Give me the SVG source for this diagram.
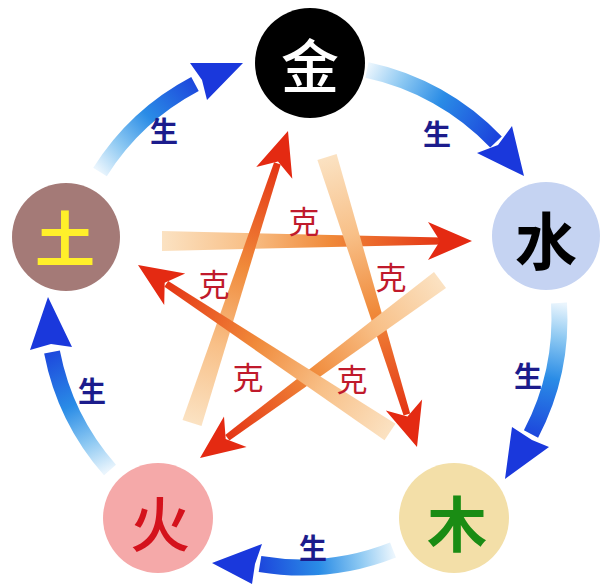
<svg xmlns="http://www.w3.org/2000/svg" xmlns:xlink="http://www.w3.org/1999/xlink" width="608" height="584" viewBox="0 0 608 584">
<defs>
<style>
.node-t{font-family:"Noto Sans CJK SC","Noto Sans CJK JP",sans-serif;text-anchor:middle;dominant-baseline:central}
.sheng{font-family:"Noto Sans CJK SC",sans-serif;font-size:28px;font-weight:700;fill:#1c1c8c;text-anchor:middle;dominant-baseline:central}
.ke{font-family:"Noto Sans CJK SC",sans-serif;font-size:31px;font-weight:400;fill:#c01a2c;text-anchor:middle;dominant-baseline:central}
.bshaft{fill:none;stroke-width:16}
.bhead{fill:#1a38dc}
.rhead{fill:#e42a12}
</style>
<linearGradient id="gblue">
<stop offset="0" stop-color="#eaf5fd"/>
<stop offset="0.25" stop-color="#8cc8f2"/>
<stop offset="0.55" stop-color="#2a8ce6"/>
<stop offset="1" stop-color="#1c44dc"/>
</linearGradient>
<linearGradient id="gred">
<stop offset="0" stop-color="#fbe2c2"/>
<stop offset="0.3" stop-color="#f8c088"/>
<stop offset="0.6" stop-color="#f08a3a"/>
<stop offset="1" stop-color="#e43414"/>
</linearGradient>
<linearGradient id="gb1" href="#gblue" xlink:href="#gblue" gradientUnits="userSpaceOnUse" x1="367" y1="70" x2="494" y2="140"/>
<linearGradient id="gb2" href="#gblue" xlink:href="#gblue" gradientUnits="userSpaceOnUse" x1="559" y1="303" x2="530" y2="437"/>
<linearGradient id="gb3" href="#gblue" xlink:href="#gblue" gradientUnits="userSpaceOnUse" x1="393" y1="550" x2="257" y2="564"/>
<linearGradient id="gb4" href="#gblue" xlink:href="#gblue" gradientUnits="userSpaceOnUse" x1="110" y1="470" x2="51" y2="348"/>
<linearGradient id="gb5" href="#gblue" xlink:href="#gblue" gradientUnits="userSpaceOnUse" x1="100" y1="172" x2="198" y2="82"/>
<linearGradient id="gr1" href="#gred" xlink:href="#gred" gradientUnits="userSpaceOnUse" x1="162" y1="241" x2="442" y2="241"/>
<linearGradient id="gr2" href="#gred" xlink:href="#gred" gradientUnits="userSpaceOnUse" x1="192" y1="423" x2="277" y2="163"/>
<linearGradient id="gr3" href="#gred" xlink:href="#gred" gradientUnits="userSpaceOnUse" x1="327" y1="157" x2="407" y2="414"/>
<linearGradient id="gr4" href="#gred" xlink:href="#gred" gradientUnits="userSpaceOnUse" x1="440" y1="280" x2="227" y2="438"/>
<linearGradient id="gr5" href="#gred" xlink:href="#gred" gradientUnits="userSpaceOnUse" x1="390" y1="432" x2="166" y2="284"/>
</defs>
<rect width="608" height="584" fill="#ffffff"/>
<g id="connectors">
<g id="sheng-arrows">
<path class="bshaft" stroke="url(#gb1)" d="M367 70 A250 250 0 0 1 496 142"/>
<polygon class="bhead" points="524,176 477,153 498,145 512,126"/>
<path class="bshaft" stroke="url(#gb2)" d="M559 303 A250 250 0 0 1 531 434"/>
<polygon class="bhead" points="505,479 512,427 532,440 549,447"/>
<path class="bshaft" stroke="url(#gb3)" d="M393 550 A250 250 0 0 1 260 564"/>
<polygon class="bhead" points="212,563 262,544 255,564 252,584"/>
<path class="bshaft" stroke="url(#gb4)" d="M110 470 A250 250 0 0 1 52 352"/>
<polygon class="bhead" points="48,297 72,347 51,344 30,350"/>
<path class="bshaft" stroke="url(#gb5)" d="M100 172 A250 250 0 0 1 195 84"/>
<polygon class="bhead" points="243,63 207,100 202,80 190,63"/>
</g>
<g id="ke-arrows">
<polygon fill="url(#gr1)" points="162,231 442,237.5 442,244.5 162,251"/>
<polygon class="rhead" points="472,241 428,222 440,241 428,260"/>
<polygon fill="url(#gr2)" points="201.5,426.1 280.7,164.4 274.1,162.2 182.5,419.9"/>
<polygon class="rhead" points="288,131 292.3,178.7 278,161.4 256.2,166.9"/>
<polygon fill="url(#gr3)" points="317.4,160 403.6,415.5 410.2,413.5 336.6,154"/>
<polygon class="rhead" points="417,447 385.8,410.6 407.5,416.4 422.1,399.4"/>
<polygon fill="url(#gr4)" points="434,272 225.2,434.9 229.4,440.5 446,288"/>
<polygon class="rhead" points="200,458 224,416.5 225.7,439 246.6,447.1"/>
<polygon fill="url(#gr5)" points="395.5,423.7 168.2,280.9 164.4,286.7 384.5,440.3"/>
<polygon class="rhead" points="138,265 185.2,273.5 164.7,282.7 164.2,305.1"/>
</g>
<g id="labels">
<text class="sheng" x="437" y="133">生</text>
<text class="sheng" x="528" y="375">生</text>
<text class="sheng" x="313" y="547">生</text>
<text class="sheng" x="92" y="390">生</text>
<text class="sheng" x="164" y="130">生</text>
<text class="ke" x="304" y="219">克</text>
<text class="ke" x="214" y="282">克</text>
<text class="ke" x="391" y="275">克</text>
<text class="ke" x="248" y="375">克</text>
<text class="ke" x="352" y="377">克</text>
</g>
</g>
<g id="node-jin">
<circle cx="310" cy="63" r="55" fill="#000000"/>
<text class="node-t" x="310" y="63" font-size="58" font-weight="500" fill="#ffffff">金</text>
</g>
<g id="node-shui">
<circle cx="546" cy="236" r="54" fill="#c5d3f2"/>
<text class="node-t" x="546" y="238" font-size="62" font-weight="700" fill="#000000">水</text>
</g>
<g id="node-mu">
<circle cx="454" cy="518" r="55" fill="#f3dfa8"/>
<text class="node-t" x="457" y="520" font-size="60" font-weight="700" fill="#1a8c14">木</text>
</g>
<g id="node-huo">
<circle cx="158" cy="518" r="55" fill="#f5a9a9"/>
<text class="node-t" x="160" y="520" font-size="60" font-weight="500" fill="#d4121c">火</text>
</g>
<g id="node-tu">
<circle cx="66" cy="237" r="54" fill="#a47a77"/>
<text class="node-t" x="65" y="235" font-size="60" font-weight="700" fill="#fff02a">土</text>
</g>
</svg>
